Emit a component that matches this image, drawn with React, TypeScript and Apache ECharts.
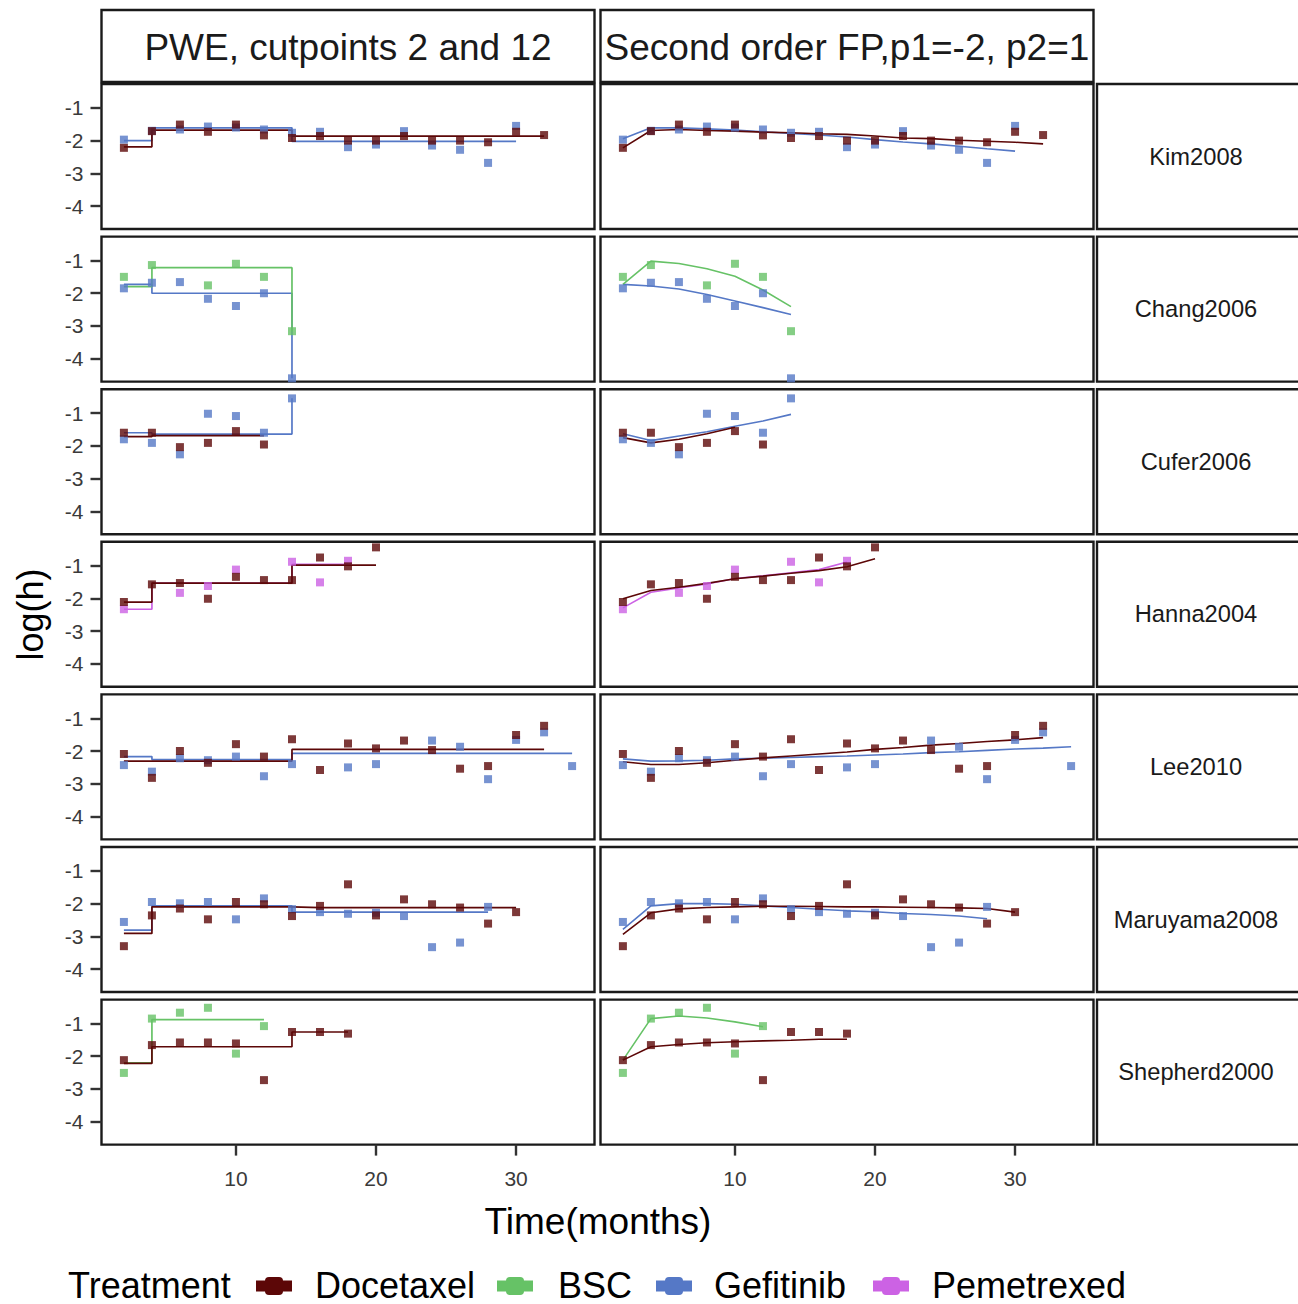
import React, { useEffect, useRef } from "react";
import * as echarts from "echarts";

// ---------- data ----------
const TIMES = [2, 4, 6, 8, 10, 12, 14, 16, 18, 20, 22, 24, 26, 28, 30, 32, 34];
const STUDIES = ["Kim2008", "Chang2006", "Cufer2006", "Hanna2004", "Lee2010", "Maruyama2008", "Shepherd2000"];
const TREATMENTS = ["Docetaxel", "BSC", "Gefitinib", "Pemetrexed"];
const TREATMENT_COLORS = ["#5c0707", "#66c266", "#5578c6", "#cc62e4"];
const PANEL_TITLES = ["PWE, cutpoints 2 and 12", "Second order FP,p1=-2, p2=1"];
const Y_TICKS = [-4, -3, -2, -1];
const X_TICKS = [10, 20, 30];

// Kim2008
const kimDocPts = [-2.22, -1.71, -1.51, -1.73, -1.51, -1.84, -1.92, -1.86, -2.0, -2.0, -1.86, -2.0, -2.0, -2.05, -1.73, -1.83];
const kimGefPts = [-1.97, -1.7, -1.66, -1.57, -1.6, -1.66, -1.76, -1.73, -2.2, -2.12, -1.71, -2.15, -2.28, -2.68, -1.55];
const kimDocPwe = [-2.19, -1.68, -1.68, -1.68, -1.68, -1.68, -1.86, -1.86, -1.86, -1.86, -1.86, -1.86, -1.86, -1.86, -1.86, -1.86];
const kimGefPwe = [-2.0, -1.61, -1.61, -1.61, -1.61, -1.61, -2.02, -2.02, -2.02, -2.02, -2.02, -2.02, -2.02, -2.02, -2.02];
const kimDocFp = [-2.22, -1.69, -1.66, -1.69, -1.71, -1.74, -1.76, -1.79, -1.81, -1.86, -1.92, -1.94, -1.99, -2.02, -2.05, -2.1];
const kimGefFp = [-1.94, -1.61, -1.61, -1.64, -1.68, -1.73, -1.78, -1.83, -1.89, -1.97, -2.04, -2.1, -2.17, -2.25, -2.32];

// Chang2006
const changBscPts = [-1.5, -1.14, null, -1.76, -1.1, -1.5, -3.16];
const changGefPts = [-1.85, -1.68, -1.66, -2.17, -2.39, -2.0, -4.6];
const changBscPwe = [-1.8, -1.22, -1.22, -1.22, -1.22, -1.22, -3.16];
const changGefPwe = [-1.73, -2.0, -2.0, -2.0, -2.0, -2.0, -4.6];
const changBscFp = [-1.73, -1.02, -1.09, -1.25, -1.48, -1.9, -2.41];
const changGefFp = [-1.73, -1.78, -1.87, -2.04, -2.24, -2.44, -2.65];

// Cufer2006
const cuferDocPts = [-1.6, -1.6, -2.04, -1.91, -1.55, -1.96];
const cuferGefPts = [-1.8, -1.91, -2.26, -1.02, -1.09, -1.6, -0.55];
const cuferDocPwe = [-1.72, -1.69, -1.69, -1.69, -1.69, -1.69];
const cuferGefPwe = [-1.6, -1.64, -1.64, -1.64, -1.64, -1.64, -0.55];
const cuferDocFp = [-1.75, -1.91, -1.8, -1.63, -1.43];
const cuferGefFp = [-1.63, -1.84, -1.7, -1.57, -1.4, -1.24, -1.04];

// Hanna2004
const hannaDocPts = [-2.11, -1.57, -1.53, -2.01, -1.34, -1.44, -1.44, -0.75, -1.02, -0.44];
const hannaPemPts = [-2.33, null, -1.83, -1.62, -1.12, null, -0.88, -1.51, -0.85];
const hannaDocPwe = [-2.11, -1.53, -1.53, -1.53, -1.53, -1.53, -0.98, -0.98, -0.98, -0.98];
const hannaPemPwe = [-2.33, -1.53, -1.53, -1.53, -1.53, -1.53, -0.96, -0.96, -0.96];
const hannaDocFp = [-2.01, -1.76, -1.66, -1.54, -1.4, -1.32, -1.23, -1.15, -1.03, -0.79];
const hannaPemFp = [-2.29, -1.81, -1.68, -1.56, -1.39, -1.31, -1.22, -1.12, -0.89];

// Lee2010
const leeDocPts = [-2.09, -2.82, -2.0, -2.36, -1.79, -2.17, -1.64, -2.58, -1.77, -1.92, -1.68, -1.97, -2.54, -2.46, -1.51, -1.23];
const leeGefPts = [-2.43, -2.63, -2.22, -2.28, -2.17, -2.77, -2.4, null, -2.5, -2.4, null, -1.68, -1.87, -2.86, -1.66, -1.43, -2.46];
const leeDocPwe = [-2.31, -2.31, -2.31, -2.31, -2.31, -2.31, -1.95, -1.95, -1.95, -1.95, -1.95, -1.95, -1.95, -1.95, -1.95, -1.95];
const leeGefPwe = [-2.17, -2.26, -2.26, -2.26, -2.26, -2.26, -2.07, -2.07, -2.07, -2.07, -2.07, -2.07, -2.07, -2.07, -2.07, -2.07, -2.07];
const leeDocFp = [-2.33, -2.41, -2.41, -2.36, -2.28, -2.21, -2.15, -2.09, -2.03, -1.95, -1.89, -1.82, -1.77, -1.71, -1.66, -1.59];
const leeGefFp = [-2.24, -2.31, -2.3, -2.28, -2.24, -2.22, -2.2, -2.17, -2.15, -2.12, -2.09, -2.05, -2.02, -1.98, -1.94, -1.91, -1.87];

// Maruyama2008
const maruDocPts = [-3.3, -2.36, -2.15, -2.48, -1.95, -2.02, -2.38, -2.07, -1.41, -2.36, -1.87, -2.02, -2.12, -2.61, -2.26];
const maruGefPts = [-2.56, -1.95, -1.99, -1.95, -2.48, -1.84, -2.17, -2.26, -2.31, -2.28, -2.38, -3.33, -3.19, -2.1];
const maruDocPwe = [-2.91, -2.1, -2.1, -2.1, -2.1, -2.1, -2.12, -2.12, -2.12, -2.12, -2.12, -2.12, -2.12, -2.12, -2.12];
const maruGefPwe = [-2.81, -2.07, -2.07, -2.07, -2.07, -2.07, -2.26, -2.26, -2.26, -2.26, -2.26, -2.26, -2.26, -2.26];
const maruDocFp = [-2.94, -2.28, -2.16, -2.12, -2.1, -2.08, -2.08, -2.09, -2.1, -2.1, -2.11, -2.12, -2.13, -2.15, -2.26];
const maruGefFp = [-2.79, -2.07, -2.0, -2.0, -2.02, -2.07, -2.12, -2.17, -2.22, -2.25, -2.3, -2.33, -2.38, -2.46];

// Shepherd2000
const shepDocPts = [-2.12, -1.66, -1.58, -1.58, -1.61, -2.73, -1.26, -1.26, -1.31];
const shepBscPts = [-2.51, -0.85, -0.67, -0.52, -1.92, -1.08];
const shepDocPwe = [-2.22, -1.71, -1.71, -1.71, -1.71, -1.71, -1.26, -1.26, -1.26];
const shepBscPwe = [-2.2, -0.88, -0.88, -0.88, -0.88, -0.88];
const shepDocFp = [-2.12, -1.71, -1.64, -1.59, -1.56, -1.53, -1.51, -1.48, -1.48];
const shepBscFp = [-2.12, -0.85, -0.77, -0.83, -0.95, -1.1];

// entries: [study index, treatment index, points, pwe, fp]; ordered for drawing (Docetaxel on top)
const ENTRIES: [number, number, (number | null)[], number[], number[]][] = [
  [0, 2, kimGefPts, kimGefPwe, kimGefFp],
  [0, 0, kimDocPts, kimDocPwe, kimDocFp],
  [1, 2, changGefPts, changGefPwe, changGefFp],
  [1, 1, changBscPts, changBscPwe, changBscFp],
  [2, 2, cuferGefPts, cuferGefPwe, cuferGefFp],
  [2, 0, cuferDocPts, cuferDocPwe, cuferDocFp],
  [3, 3, hannaPemPts, hannaPemPwe, hannaPemFp],
  [3, 0, hannaDocPts, hannaDocPwe, hannaDocFp],
  [4, 2, leeGefPts, leeGefPwe, leeGefFp],
  [4, 0, leeDocPts, leeDocPwe, leeDocFp],
  [5, 2, maruGefPts, maruGefPwe, maruGefFp],
  [5, 0, maruDocPts, maruDocPwe, maruDocFp],
  [6, 1, shepBscPts, shepBscPwe, shepBscFp],
  [6, 0, shepDocPts, shepDocPwe, shepDocFp],
];

// ---------- layout ----------
const FONT = "'Liberation Sans', Arial, Helvetica, sans-serif";
const GRID_LEFTS = [101.5, 600.5];
const GRID_W = 493;
const ROW_TOP0 = 84;
const ROW_STEP = 152.6;
const ROW_H = 145;
const X_MIN = 0.4;
const X_MAX = 35.6;
const Y_MIN = -4.7;
const Y_MAX = -0.27;
const BORDER = "#1a1a1a";

function pairs(arr: (number | null)[]) {
  const out: number[][] = [];
  arr.forEach((v, i) => {
    if (v !== null && v !== undefined) out.push([TIMES[i], v]);
  });
  return out;
}

function buildOption() {
  const grid: any[] = [];
  const xAxis: any[] = [];
  const yAxis: any[] = [];
  const series: any[] = [];
  const graphic: any[] = [];

  STUDIES.forEach((name, r) => {
    const top = ROW_TOP0 + r * ROW_STEP;
    const bottomRow = r === STUDIES.length - 1;
    [0, 1].forEach((c) => {
      const idx = r * 2 + c;
      grid.push({
        left: GRID_LEFTS[c],
        top,
        width: GRID_W,
        height: ROW_H,
        show: true,
        backgroundColor: "#ffffff",
        borderColor: BORDER,
        borderWidth: 2.4,
        containLabel: false,
      });
      xAxis.push({
        type: "value",
        gridIndex: idx,
        min: X_MIN,
        max: X_MAX,
        splitLine: { show: false },
        axisLine: { show: false },
        axisTick: {
          show: bottomRow,
          customValues: X_TICKS,
          length: 11,
          lineStyle: { color: "#333333", width: 2.4 },
        },
        axisLabel: {
          show: bottomRow,
          customValues: X_TICKS,
          fontSize: 21,
          color: "#3a3a3a",
          fontFamily: FONT,
          margin: 23,
        },
      });
      yAxis.push({
        type: "value",
        gridIndex: idx,
        min: Y_MIN,
        max: Y_MAX,
        splitLine: { show: false },
        axisLine: { show: false },
        axisTick: {
          show: c === 0,
          customValues: Y_TICKS,
          length: 11,
          lineStyle: { color: "#333333", width: 2.4 },
        },
        axisLabel: {
          show: c === 0,
          customValues: Y_TICKS,
          fontSize: 21,
          color: "#3a3a3a",
          fontFamily: FONT,
          margin: 18,
        },
      });
    });

    // right strip
    graphic.push({
      type: "rect",
      shape: { x: 1097, y: top, width: 210, height: ROW_H },
      style: { fill: "#ffffff", stroke: BORDER, lineWidth: 2.4 },
      silent: true,
    });
    graphic.push({
      type: "text",
      x: 1196,
      y: top + ROW_H / 2,
      style: {
        text: name,
        fontSize: 23.7,
        fontFamily: FONT,
        fill: "#1a1a1a",
        align: "center",
        verticalAlign: "middle",
        textAlign: "center",
        textVerticalAlign: "middle",
      },
      silent: true,
    });
  });

  // top strips
  PANEL_TITLES.forEach((title, c) => {
    graphic.push({
      type: "rect",
      shape: { x: GRID_LEFTS[c], y: 10, width: GRID_W, height: 72 },
      style: { fill: "#ffffff", stroke: BORDER, lineWidth: 2.4 },
      silent: true,
    });
    graphic.push({
      type: "text",
      x: GRID_LEFTS[c] + GRID_W / 2,
      y: 47,
      style: {
        text: title,
        fontSize: 37,
        fontFamily: FONT,
        fill: "#1a1a1a",
        align: "center",
        verticalAlign: "middle",
        textAlign: "center",
        textVerticalAlign: "middle",
      },
      silent: true,
    });
  });

  // axis titles
  graphic.push({
    type: "text",
    x: 30,
    y: 614.5,
    rotation: Math.PI / 2,
    style: {
      text: "log(h)",
      fontSize: 36,
      fontFamily: FONT,
      fill: "#000000",
      align: "center",
      verticalAlign: "middle",
      textAlign: "center",
      textVerticalAlign: "middle",
    },
    silent: true,
  });
  graphic.push({
    type: "text",
    x: 598,
    y: 1221,
    style: {
      text: "Time(months)",
      fontSize: 37,
      fontFamily: FONT,
      fill: "#000000",
      align: "center",
      verticalAlign: "middle",
      textAlign: "center",
      textVerticalAlign: "middle",
    },
    silent: true,
  });

  // legend
  const legendY = 1285;
  const keyX = [256, 497, 656, 873];
  const labelX = [315, 558, 714, 932];
  graphic.push({
    type: "text",
    x: 68,
    y: legendY,
    style: {
      text: "Treatment",
      fontSize: 36,
      fontFamily: FONT,
      fill: "#000000",
      align: "left",
      verticalAlign: "middle",
      textAlign: "left",
      textVerticalAlign: "middle",
    },
    silent: true,
  });
  TREATMENTS.forEach((t, i) => {
    const col = TREATMENT_COLORS[i];
    graphic.push({
      type: "rect",
      shape: { x: keyX[i], y: legendY - 4.5, width: 36, height: 11 },
      style: { fill: col },
      silent: true,
    });
    graphic.push({
      type: "rect",
      shape: { x: keyX[i] + 9, y: legendY - 8, width: 18, height: 18, r: 4 },
      style: { fill: col },
      silent: true,
    });
    graphic.push({
      type: "text",
      x: labelX[i],
      y: legendY,
      style: {
        text: t,
        fontSize: 36,
        fontFamily: FONT,
        fill: "#000000",
        align: "left",
        verticalAlign: "middle",
        textAlign: "left",
        textVerticalAlign: "middle",
      },
      silent: true,
    });
  });

  // series: lines first, then points
  ENTRIES.forEach(([s, t, , pwe, fp]) => {
    const color = TREATMENT_COLORS[t];
    const base = s * 2;
    series.push({
      name: TREATMENTS[t],
      type: "line",
      xAxisIndex: base,
      yAxisIndex: base,
      data: pairs(pwe),
      step: "end",
      symbol: "none",
      showSymbol: false,
      lineStyle: { color, width: 1.7 },
      z: 2,
      silent: true,
    });
    series.push({
      name: TREATMENTS[t],
      type: "line",
      xAxisIndex: base + 1,
      yAxisIndex: base + 1,
      data: pairs(fp),
      symbol: "none",
      showSymbol: false,
      lineStyle: { color, width: 1.6 },
      z: 2,
      silent: true,
    });
  });
  ENTRIES.forEach(([s, t, pts]) => {
    const color = TREATMENT_COLORS[t];
    const base = s * 2;
    [base, base + 1].forEach((g) => {
      series.push({
        name: TREATMENTS[t],
        type: "scatter",
        xAxisIndex: g,
        yAxisIndex: g,
        data: pairs(pts),
        symbol: "rect",
        symbolSize: 8,
        itemStyle: { color },
        z: 3,
        silent: true,
      });
    });
  });

  return {
    animation: false,
    backgroundColor: "#ffffff",
    textStyle: { fontFamily: FONT },
    grid,
    xAxis,
    yAxis,
    series,
    graphic: { elements: graphic },
  };
}

export default function App() {
  const ref = useRef<HTMLDivElement>(null);
  useEffect(() => {
    if (!ref.current) return;
    const chart = echarts.init(ref.current, null, { renderer: "svg" });
    chart.setOption(buildOption() as any);
    return () => {
      chart.dispose();
    };
  }, []);
  return (
    <div
      ref={ref}
      style={{ position: "absolute", left: 0, top: 0, width: 1298, height: 1304, background: "#ffffff" }}
    />
  );
}
